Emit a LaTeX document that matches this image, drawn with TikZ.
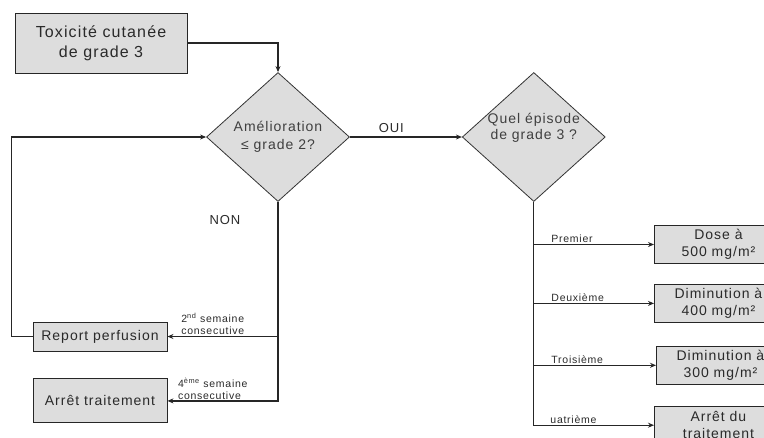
\documentclass[tikz,border=0pt]{standalone}
\usepackage{fontspec}
\setmainfont{Liberation Sans}[LetterSpace=7]
\definecolor{BoxGrey}{HTML}{DDDDDD}
\definecolor{InkGrey}{HTML}{2A2A2A}
\usetikzlibrary{arrows.meta,positioning,shapes.geometric}

\begin{document}
\begin{tikzpicture}[x=1pt,y=-1pt,node distance=20pt,
    box/.style={draw=black!85,line width=0.9pt,fill=BoxGrey,text=InkGrey,align=center,inner sep=2pt,font=\fontsize{14}{17}\selectfont},
    dia/.style={diamond,draw=black!80,line width=0.8pt,fill=BoxGrey,text=InkGrey!90,align=center,inner sep=0pt,minimum width=143pt,minimum height=129pt,font=\fontsize{14}{18}\selectfont},
    lab/.style={text=InkGrey,align=left,inner sep=1pt,font=\fontsize{10.5}{12}\selectfont},
    wire/.style={line width=1.3pt,draw=black!85}]
      \clip (0,0) rectangle (764,437);
      \node[box,minimum width=172pt,minimum height=60pt,font=\fontsize{16}{20}\selectfont] (tox) at (101,43) {Toxicité cutanée\\de grade 3};
      \node[dia] (amel) at (278,137) {Amélioration\\≤ grade 2?};
      \node[dia,right=112pt of amel,label={[text=InkGrey!90,align=center,yshift=9pt,font=\fontsize{14}{16}\selectfont]center:Quel épisode\\de grade 3 ?}] (episode) {};
      \node[box,minimum width=134pt,minimum height=29pt] (report) at (100,336.5) {Report perfusion};
      \node[box,minimum width=134pt,minimum height=44pt,below=27pt of report] (arret) {Arrêt traitement};
      \node[box,minimum width=128pt,minimum height=38pt,anchor=west] (dose) at (654,244.5) {Dose à\\500 mg/m²};
      \node[box,minimum width=128pt,minimum height=38pt,below=20pt of dose] (dim4) {Diminution à\\400 mg/m²};
      \node[box,minimum width=128pt,minimum height=38pt,below=23pt of dim4,xshift=2pt] (dim3) {Diminution à\\300 mg/m²};
      \node[box,minimum width=128pt,minimum height=38pt,below=21pt of dim3,xshift=-2pt] (stop) {Arrêt du\\traitement};
      \node[text=InkGrey,font=\fontsize{13}{15}\selectfont] (non) at (225,220) {NON};
      \draw[wire,-{Stealth[length=6pt,width=5pt]}] (tox.east) -| (amel.north);
      \draw[wire,-{Stealth[length=6pt,width=5pt]}] (amel.east) -- node[above,pos=0.37,text=InkGrey,font=\fontsize{13}{15}\selectfont]{OUI} (episode.west);
      \draw[wire,-{Stealth[length=6pt,width=5pt]}] (report.west) -- ++(-21,0) |- (amel.west);
      \draw[wire,-{Stealth[length=6pt,width=5pt]}] (amel.south |- report.east) -- node[lab,above,pos=0.59]{2\textsuperscript{nd} semaine\\consecutive} (report.east);
      \draw[wire,-{Stealth[length=6pt,width=5pt]}] (amel.south) |- node[lab,above,pos=0.795]{4\textsuperscript{ème} semaine\\consecutive} (arret.east);
      \draw[wire,-{Stealth[length=6pt,width=5pt]}] (episode.south |- dose.west) -- node[lab,above right,pos=0,xshift=16pt]{Premier} (dose.west);
      \draw[wire,-{Stealth[length=6pt,width=5pt]}] (episode.south |- dim4.west) -- node[lab,above right,pos=0,xshift=16pt]{Deuxième} (dim4.west);
      \draw[wire,-{Stealth[length=6pt,width=5pt]}] (episode.south |- dim3.west) -- node[lab,above right,pos=0,xshift=16pt]{Troisième} (dim3.west);
      \draw[wire,-{Stealth[length=6pt,width=5pt]}] (episode.south) |- node[lab,above right,pos=0.5,xshift=15pt]{uatrième} (stop.west);
    \end{tikzpicture}
\end{document}
